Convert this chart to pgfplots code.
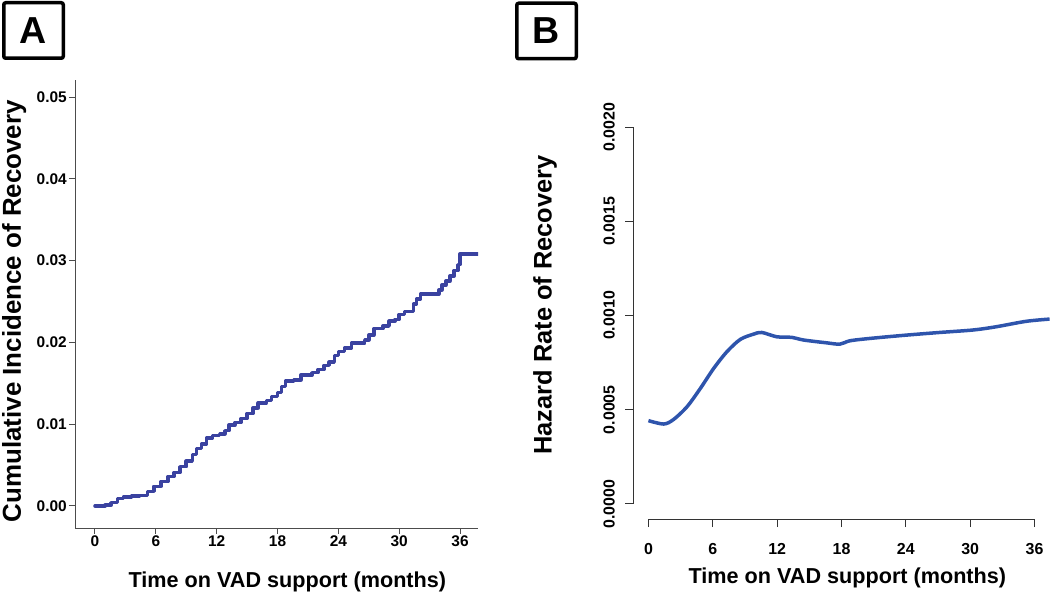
\documentclass[border=0pt]{standalone}
\usepackage{fontspec}
\setmainfont{Liberation Sans}
\usepackage{pgfplots}
\pgfplotsset{compat=1.18}
\definecolor{lineA}{RGB}{58,66,160}
\definecolor{lineB}{RGB}{46,84,172}
\begin{document}
\begin{tikzpicture}
\path[use as bounding box] (0,0) rectangle (1050bp,594bp);
% Panel A
\begin{axis}[
  at={(75bp,66bp)}, anchor=south west,
  scale only axis, width=403bp, height=448bp,
  xmin=-1.97, xmax=37.77, ymin=-0.00269, ymax=0.05208,
  scaled ticks=false,
  axis x line*=bottom, axis y line*=left,
  axis line style={-, draw=black!70, line width=1bp},
  tick align=outside, major tick length=6bp,
  tick style={draw=black!70, line width=1bp},
  xtick={0,6,12,18,24,30,36},
  xticklabels={0,6,12,18,24,30,36},
  ytick={0,0.01,0.02,0.03,0.04,0.05},
  yticklabels={0.00,0.01,0.02,0.03,0.04,0.05},
  tick label style={font=\bfseries\fontsize{15.5}{16}\selectfont},
  xticklabel style={inner sep=2bp},
  yticklabel style={inner sep=2bp},
  xlabel={Time on VAD support (months)},
  ylabel={Cumulative Incidence of Recovery},
  xlabel style={font=\bfseries\fontsize{21.7}{22}\selectfont, at={(axis description cs:0.527,-0.1205)}, anchor=center},
  ylabel style={font=\bfseries\fontsize{26}{26}\selectfont, at={(axis description cs:-0.151,0.484)}, anchor=center, rotate=0},
]
\addplot[const plot, color=lineA, line width=3.5bp, line join=round, line cap=round] coordinates {
(0,0) (1.0,0.0001) (1.6,0.0004) (2.2,0.0009) (2.8,0.0011) (3.6,0.0012)
(4.4,0.0013) (5.2,0.0018) (5.8,0.0024) (6.5,0.0030) (7.2,0.0036)
(7.8,0.0041) (8.4,0.0048) (9.0,0.0055) (9.6,0.0063) (10.0,0.0070)
(10.5,0.0076) (11.0,0.0083) (11.6,0.0086) (12.3,0.0088) (12.8,0.0092)
(13.2,0.0099) (13.8,0.0102) (14.4,0.0107) (15.0,0.0113) (15.6,0.0120)
(16.1,0.0126) (16.9,0.0129) (17.4,0.0134) (18.0,0.0139) (18.4,0.0146)
(18.8,0.0153) (19.6,0.0154) (20.3,0.0160) (21.4,0.0163) (22.0,0.0167)
(22.6,0.0172) (23.1,0.0176) (23.6,0.0184) (24.0,0.0189) (24.6,0.0193)
(25.3,0.0199) (26.6,0.0203) (27.0,0.0209) (27.5,0.0217) (28.4,0.0220)
(29.0,0.0226) (29.6,0.0228) (30.0,0.0234) (30.5,0.0238) (31.4,0.0247)
(31.7,0.0253) (32.1,0.0259) (33.9,0.0264) (34.2,0.0270) (34.6,0.0275)
(35.0,0.0281) (35.4,0.0288) (35.8,0.0295) (36.0,0.0308) (37.8,0.0308)
};
\end{axis}
% Panel B
\begin{axis}[
  at={(633bp,75bp)}, anchor=south west,
  scale only axis, width=417bp, height=407bp,
  xmin=-1.44, xmax=37.44, ymin=-0.00008, ymax=0.00208,
  scaled ticks=false,
  axis x line*=bottom, axis y line*=left,
  x axis line style={-, draw=black!80, line width=1bp, shorten <=15.5bp, shorten >=15.5bp},
  y axis line style={-, draw=black!80, line width=1bp, shorten <=15.1bp, shorten >=15.1bp},
  tick align=outside, major tick length=8bp,
  tick style={draw=black!80, line width=1bp},
  xtick={0,6,12,18,24,30,36},
  xticklabels={0,6,12,18,24,30,36},
  ytick={0,0.0005,0.001,0.0015,0.002},
  yticklabels={0.0000,0.0005,0.0010,0.0015,0.0020},
  tick label style={font=\bfseries\fontsize{16}{16}\selectfont},
  xticklabel style={yshift=-13bp},
  yticklabel style={xshift=-10bp, rotate=90, anchor=south, inner sep=0pt},
  xlabel={Time on VAD support (months)},
  ylabel={Hazard Rate of Recovery},
  xlabel style={font=\bfseries\fontsize{21.7}{22}\selectfont, at={(axis description cs:0.514,-0.145)}, anchor=center},
  ylabel style={font=\bfseries\fontsize{25.5}{26}\selectfont, at={(axis description cs:-0.211,0.526)}, anchor=center, rotate=0},
]
\addplot[smooth, tension=0.5, color=lineB, line width=3.5bp] coordinates {
(0,0.000442) (1.43,0.000424) (2.36,0.000449) (3.6,0.000516) (4.84,0.000613)
(6.08,0.000719) (7.32,0.000808) (8.56,0.000873) (9.8,0.000901) (10.57,0.000910)
(11.97,0.000887) (13.37,0.000884) (14.45,0.000870) (16.6,0.000855) (17.86,0.000848)
(18.8,0.000866) (20.96,0.000880) (24.07,0.000896) (27.16,0.000910) (30.26,0.000923)
(32.4,0.000940) (35.2,0.000969) (37.4,0.000981)
};
\end{axis}
% Panel letters
\node[draw, line width=3.5bp, rounded corners=2bp, minimum width=59.5bp, minimum height=55.5bp, inner sep=0pt,
  font=\bfseries\fontsize{37.7}{38}\selectfont] at (33.5bp,563.5bp) {A};
\node[draw, line width=3.5bp, rounded corners=2bp, minimum width=59.5bp, minimum height=55.5bp, inner sep=0pt,
  font=\bfseries\fontsize{37.7}{38}\selectfont] at (546.5bp,563bp) {B};
\end{tikzpicture}
\end{document}
